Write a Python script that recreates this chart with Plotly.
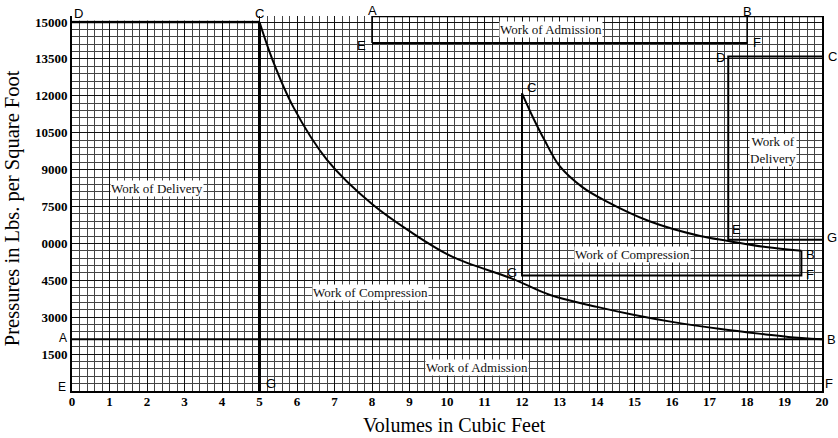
import plotly.graph_objects as go

# Volume axis (cubic feet) and pressure axis (lbs. per square foot)
x_ticks = list(range(0, 21))
y_tick_vals = [1500, 3000, 4500, 6000, 7500, 9000, 10500, 12000, 13500, 15000]
y_tick_text = ["1500", "3000", "4500", "0000", "7500", "9000", "10500", "12000", "13500", "15000"]

Y_TOP = 15245  # top edge of the ruled paper

# Main diagram: compression curve from B (20 cu ft) to C (5 cu ft)
comp_v = [5.0, 5.35, 5.9, 6.8, 8.0, 9.0, 10.15, 11.75, 12.75, 14.0, 15.0, 16.0, 17.3, 18.5, 19.1, 20.0]
comp_p = [15000, 13450, 11550, 9400, 7600, 6500, 5450, 4560, 3900, 3420, 3090, 2810, 2520, 2300, 2200, 2100]

# Main diagram straight lines
atm_p = 2100           # line A-B
delivery_p = 15000     # line D-C
c_vol = 5.0            # line C-G

# Second diagram: admission box A-B-F-E
adm_v = [8.0, 18.0]
adm_p = [Y_TOP, 14150]
# Delivery box D-C-G-E
del_v = [17.5, 20.0]
del_p = [13600, 6150]
# Compression curve C-B and base G-F
comp2_v = [12.0, 12.3, 12.6, 13.0, 13.6, 14.2, 15.4, 16.75, 17.5, 18.5, 19.45]
comp2_p = [12100, 11100, 10200, 9150, 8300, 7750, 6900, 6300, 6100, 5850, 5700]
base2_p = 4700

fig = go.Figure()


def seg(xs, ys, width=2, shape="linear"):
    fig.add_trace(go.Scatter(x=xs, y=ys, mode="lines",
                             line=dict(color="black", width=width, shape=shape, smoothing=1),
                             hoverinfo="skip", showlegend=False))


# main diagram
seg([0, c_vol], [delivery_p, delivery_p], 2.5)
seg([c_vol, c_vol], [delivery_p, 0], 3)
seg([0, 20], [atm_p, atm_p], 2)
seg(comp_v, comp_p, 2, "spline")

# second diagram
seg([adm_v[0], 20], [Y_TOP, Y_TOP], 2.5)
seg([adm_v[0], adm_v[0]], [adm_p[0], adm_p[1]], 1.5)
seg([adm_v[0], adm_v[1]], [adm_p[1], adm_p[1]], 2)
seg([adm_v[1], adm_v[1]], [adm_p[0], adm_p[1]], 1.2)
seg([del_v[1], del_v[0], del_v[0], del_v[1]], [del_p[0], del_p[0], del_p[1], del_p[1]], 2)
seg([comp2_v[0], comp2_v[0], comp2_v[-1], comp2_v[-1]],
    [comp2_p[0], base2_p, base2_p, comp2_p[-1]], 2)
seg(comp2_v, comp2_p, 2, "spline")

# blank strip above the delivery line on the left
fig.add_shape(type="rect", x0=-0.05, x1=c_vol - 0.05, y0=delivery_p + 60, y1=Y_TOP + 200,
              fillcolor="white", line=dict(width=0), layer="above")

serif = "Liberation Serif"
sans = "Liberation Sans"

# point letters: text, x, y, anchor, xshift, yshift, size
letters = [
    ("D", 0.0, Y_TOP, "left", 0, 3, 13), ("C", c_vol, Y_TOP, "center", 0, 3, 13),
    ("G", c_vol, 0, "left", 4, 8, 13),
    ("A", 0.0, atm_p, "right", -3, 1, 12), ("E", 0.0, 0, "right", -4, 4, 12),
    ("B", 20.0, atm_p, "left", 3, 0, 13), ("F", 20.0, 0, "left", 1, 8, 13),
    ("A", adm_v[0], Y_TOP, "center", 0, 6, 13), ("B", adm_v[1], Y_TOP, "center", 0, 5, 13),
    ("E", adm_v[0], adm_p[1], "right", -4, -3, 13), ("F", adm_v[1], adm_p[1], "left", 4, 0, 13),
    ("D", del_v[0], del_p[0], "right", -1, -1, 13), ("C", 20.0, del_p[0], "left", 4, 0, 13),
    ("E", del_v[0], del_p[1], "left", 2, 10, 13), ("G", 20.0, del_p[1], "left", 3, 2, 13),
    ("B", comp2_v[-1], comp2_p[-1], "left", 3, -4, 13), ("F", comp2_v[-1], base2_p, "left", 3, 1, 13),
    ("G", comp2_v[0], base2_p, "right", -3, 3, 13), ("C", comp2_v[0], comp2_p[0], "left", 3, 6, 13),
]
for t, x, y, anchor, dx, dy, sz in letters:
    fig.add_annotation(x=x, y=y, text=t, showarrow=False, xanchor=anchor, yanchor="middle",
                       xshift=dx, yshift=dy,
                       font=dict(family=sans, size=sz, color="black"))

# region names
regions = [
    ("Work of Admission", 12.77, 14715),
    ("Work of Delivery", 2.27, 8252),
    ("Work of Compression", 7.97, 4024),
    ("Work of Compression", 14.95, 5569),
    ("Work of Admission", 10.8, 975),
    ("Work of<br>Delivery", 18.7, 9802),
]
for t, x, y in regions:
    fig.add_annotation(x=x, y=y, text=t, showarrow=False, bgcolor="white",
                       borderpad=0, font=dict(family=serif, size=13, color="#111"))

# axis titles
fig.add_annotation(xref="paper", yref="paper", x=0.51, y=-0.1227, text="Volumes in Cubic Feet",
                   showarrow=False, xanchor="center", yanchor="bottom", borderpad=0,
                   font=dict(family=serif, size=20, color="black"))
fig.add_annotation(xref="paper", yref="paper", x=-0.079, y=0.487,
                   text="Pressures in Lbs. per Square Foot", textangle=-90,
                   showarrow=False, xanchor="center", yanchor="middle",
                   font=dict(family=serif, size=20.5, color="black"))

fig.update_layout(
    width=838, height=438,
    margin=dict(l=72, r=16, t=16, b=47),
    paper_bgcolor="white", plot_bgcolor="white",
    xaxis=dict(range=[0, 20], tickvals=x_ticks, ticks="", showline=True, linecolor="black",
               linewidth=2, showgrid=True, gridcolor="#111", gridwidth=1, zeroline=False,
               minor=dict(dtick=0.2, showgrid=True, gridcolor="#444", gridwidth=1),
               ticklabelstandoff=-3, automargin=False,
               tickfont=dict(family=serif, size=13, color="black", weight="bold")),
    yaxis=dict(range=[0, Y_TOP], tickvals=y_tick_vals, ticktext=y_tick_text, ticks="",
               showline=True, linecolor="black", linewidth=2, mirror=True,
               showgrid=True, gridcolor="#111", gridwidth=1, zeroline=False,
               automargin=False,
               minor=dict(dtick=300, showgrid=True, gridcolor="#444", gridwidth=1),
               tickfont=dict(family=serif, size=13, color="black", weight="bold")),
)

fig.write_html("out.html")
